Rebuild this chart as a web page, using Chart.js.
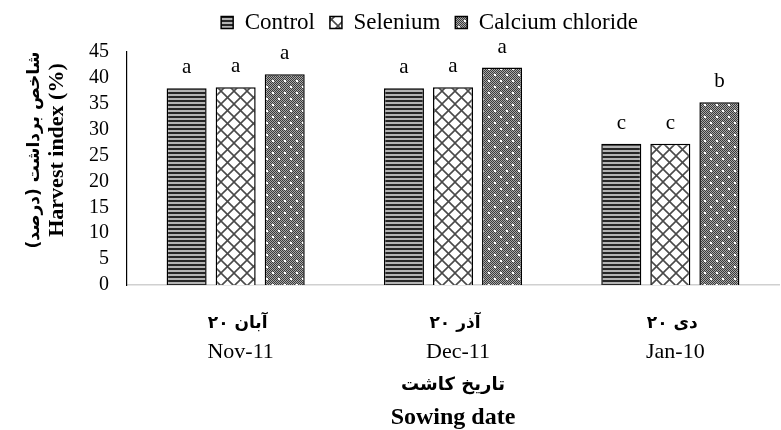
<!DOCTYPE html>
<html><head><meta charset="utf-8">
<script src="https://cdn.jsdelivr.net/npm/chart.js@4.4.0/dist/chart.umd.min.js"></script>
<style>html,body{margin:0;padding:0;background:#fff}#wrap{width:781px;height:430px;position:relative}</style>
</head><body><div id="wrap"><canvas id="c"></canvas></div>
<script>
const categoriesFaDay = ['۲۰', '۲۰', '۲۰'];
const categoriesFaMonth = ['آبان', 'آذر', 'دی'];
const categoriesEn = ['Nov-11', 'Dec-11', 'Jan-10'];
const seriesNames = ['Control', 'Selenium', 'Calcium chloride'];
const controlValues = [38.0, 38.0, 27.3];
const seleniumValues = [38.2, 38.2, 27.3];
const calciumValues = [40.7, 42.0, 35.3];
const controlLetters = ['a', 'a', 'c'];
const seleniumLetters = ['a', 'a', 'c'];
const calciumLetters = ['a', 'a', 'b'];
const yMin = 0, yMax = 45, yStep = 5;
const yTitleFa = 'شاخص برداشت (درصد)\u200F';
const yTitleEn = 'Harvest index (%)';
const xTitleFa = 'تاریخ کاشت';
const xTitleEn = 'Sowing date';

const SERIF = "'Liberation Serif','Times New Roman',serif";
const FA = "'DejaVu Sans',sans-serif";

function makeTile(w, h, draw) {
  const c = document.createElement('canvas');
  c.width = w; c.height = h;
  const g = c.getContext('2d');
  draw(g, w, h);
  return document.createElement('canvas').getContext('2d').createPattern(c, 'repeat');
}
const stripePattern = makeTile(4, 4, (g, w, h) => {
  g.fillStyle = '#b4b4b4'; g.fillRect(0, 0, w, h);
  g.fillStyle = '#262626'; g.fillRect(0, 0, w, 2);
});
const crossPattern = makeTile(13, 13, (g, w, h) => {
  g.fillStyle = '#ffffff'; g.fillRect(0, 0, w, h);
  g.strokeStyle = '#4a4a4a'; g.lineWidth = 1.6;
  for (const dx of [-w, 0, w]) {
    g.beginPath(); g.moveTo(dx, 0); g.lineTo(dx + w, h); g.stroke();
    g.beginPath(); g.moveTo(dx + w, 0); g.lineTo(dx, h); g.stroke();
  }
});
const dotPattern = makeTile(12, 12, (g, w, h) => {
  for (let y = 0; y < h; y++) for (let x = 0; x < w; x++) {
    g.fillStyle = ((x + y) % 2 === 0) ? '#3a3a3a' : '#a8a8a8';
    g.fillRect(x, y, 1, 1);
  }
  g.fillStyle = '#ffffff';
  g.fillRect(2, 2, 2, 2); g.fillRect(8, 8, 2, 2);
});

const letters = [controlLetters, seleniumLetters, calciumLetters];

const layoutPlugin = {
  id: 'legendFix',
  beforeLayout(chart) {
    const lg = chart.legend;
    if (lg && !lg._wrapped) {
      const f = lg.fit;
      lg.fit = function () { f.call(this); this.height = 52; };
      lg._wrapped = true;
    }
  },
  afterLayout(chart) {
    const lg = chart.legend;
    if (lg) { lg.left += 40; lg.right += 40; lg.top -= 4; lg.bottom -= 4; }
  }
};

// day number on the left, month name on its right, as in the source figure
function drawFaLabel(ctx, num, word, cx, y) {
  const gap = ctx.measureText(' ').width;
  const w0 = ctx.measureText(num).width;
  const w1 = ctx.measureText(word).width;
  const start = cx - (w0 + gap + w1) / 2;
  ctx.textAlign = 'left';
  ctx.fillText(num, start, y);
  ctx.fillText(word, start + w0 + gap, y);
  ctx.textAlign = 'center';
}

const textPlugin = {
  id: 'texts',
  afterDatasetsDraw(chart) {
    const ctx = chart.ctx;
    ctx.save();
    ctx.fillStyle = '#000';
    ctx.textAlign = 'center';
    ctx.textBaseline = 'alphabetic';
    ctx.font = '21px ' + SERIF;
    chart.data.datasets.forEach((ds, di) => {
      chart.getDatasetMeta(di).data.forEach((el, i) => {
        ctx.fillText(letters[di][i], el.x, el.y - 15);
      });
    });
    const xs = chart.scales.x;
    categoriesEn.forEach((lab, i) => {
      const x = xs.getPixelForValue(i);
      ctx.font = 'bold 17px ' + FA;
      drawFaLabel(ctx, categoriesFaDay[i], categoriesFaMonth[i], x + 2, 328);
      ctx.font = '22px ' + SERIF;
      ctx.fillText(lab, x + 5, 358);
    });
    const cx = (chart.chartArea.left + chart.chartArea.right) / 2;
    ctx.font = 'bold 18px ' + FA;
    ctx.fillText(xTitleFa, cx, 390);
    ctx.font = 'bold 24px ' + SERIF;
    ctx.fillText(xTitleEn, cx, 424);
    // y title
    ctx.translate(0, 150);
    ctx.rotate(-Math.PI / 2);
    ctx.textBaseline = 'middle';
    ctx.font = 'bold 17px ' + FA;
    ctx.fillText(yTitleFa, 0, 35);
    ctx.font = 'bold 22px ' + SERIF;
    ctx.fillText(yTitleEn, 0, 57);
    ctx.restore();
  }
};

new Chart(document.getElementById('c'), {
  type: 'bar',
  data: {
    labels: categoriesEn,
    datasets: [
      { label: seriesNames[0], data: controlValues, backgroundColor: stripePattern },
      { label: seriesNames[1], data: seleniumValues, backgroundColor: crossPattern },
      { label: seriesNames[2], data: calciumValues, backgroundColor: dotPattern }
    ].map(d => Object.assign(d, { borderColor: '#000', borderWidth: 1.5, categoryPercentage: 0.677, barPercentage: 0.816 }))
  },
  options: {
    responsive: true,
    maintainAspectRatio: false,
    animation: false,
    devicePixelRatio: 1,
    layout: { padding: { top: 0, right: 2, bottom: 145, left: 0 } },
    plugins: {
      legend: {
        position: 'top',
        labels: { font: { family: SERIF, size: 23 }, color: '#000', boxWidth: 12, boxHeight: 12, padding: 15 }
      },
      tooltip: { enabled: false }
    },
    scales: {
      x: {
        ticks: { display: false },
        grid: { display: false, drawTicks: false },
        border: { color: '#d0d0d0', width: 1.5 }
      },
      y: {
        min: yMin, max: yMax,
        afterFit(s) { s.width = 127; },
        ticks: { stepSize: yStep, autoSkip: false, font: { family: SERIF, size: 20, lineHeight: 1 }, color: '#000', padding: 18 },
        grid: { display: false, drawTicks: false },
        border: { color: '#000', width: 1.2 }
      }
    }
  },
  plugins: [layoutPlugin, textPlugin]
});
</script></body></html>
